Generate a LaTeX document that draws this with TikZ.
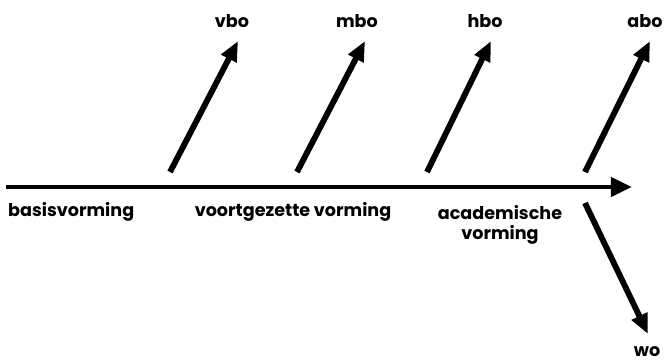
\documentclass[tikz,border=0pt]{standalone}
\usepackage{fontspec}
\setmainfont{Poppins}
\usetikzlibrary{arrows.meta}

\begin{document}
\begin{tikzpicture}[x=0.03cm, y=-0.03cm]
% Define the styles
\tikzstyle{flow} = [line width=5pt, -{Triangle[length=17pt, width=14pt]}]
\tikzstyle{main} = [line width=4.2pt, -{Triangle[length=18pt, width=16pt]}]
\tikzstyle{lbl} = [font=\fontsize{15}{17}\selectfont\bfseries, inner sep=0pt]

\useasboundingbox (0,0) rectangle (664,362);

% Define the points
\coordinate (start) at (6,187);
\coordinate (end) at (632,187);
\coordinate (v0) at (170,172);
\coordinate (v1) at (238,41);
\coordinate (m0) at (297,172);
\coordinate (m1) at (365,41);
\coordinate (h0) at (427,172);
\coordinate (h1) at (491,41);
\coordinate (a0) at (585,172);
\coordinate (a1) at (650,41);
\coordinate (w0) at (585,203);
\coordinate (w1) at (648,334);

% Define the labels
\node[lbl] (vbo) at (232,21) {vbo};
\node[lbl] (mbo) at (357,21) {mbo};
\node[lbl] (hbo) at (485,21) {hbo};
\node[lbl] (abo) at (645,21) {abo};
\node[lbl] (wo) at (647,352) {wo};
\node[lbl, anchor=west] (basis) at (8,212) {basisvorming};
\node[lbl] (voort) at (293,212) {voortgezette vorming};
\node[lbl, align=center] (acad) at (500,225) {academische\\vorming};

% Define the arrows
\draw[main] (start) -- (end);
\draw[flow] (v0) -- (v1);
\draw[flow] (m0) -- (m1);
\draw[flow] (h0) -- (h1);
\draw[flow] (a0) -- (a1);
\draw[flow] (w0) -- (w1);

\end{tikzpicture}
\end{document}
